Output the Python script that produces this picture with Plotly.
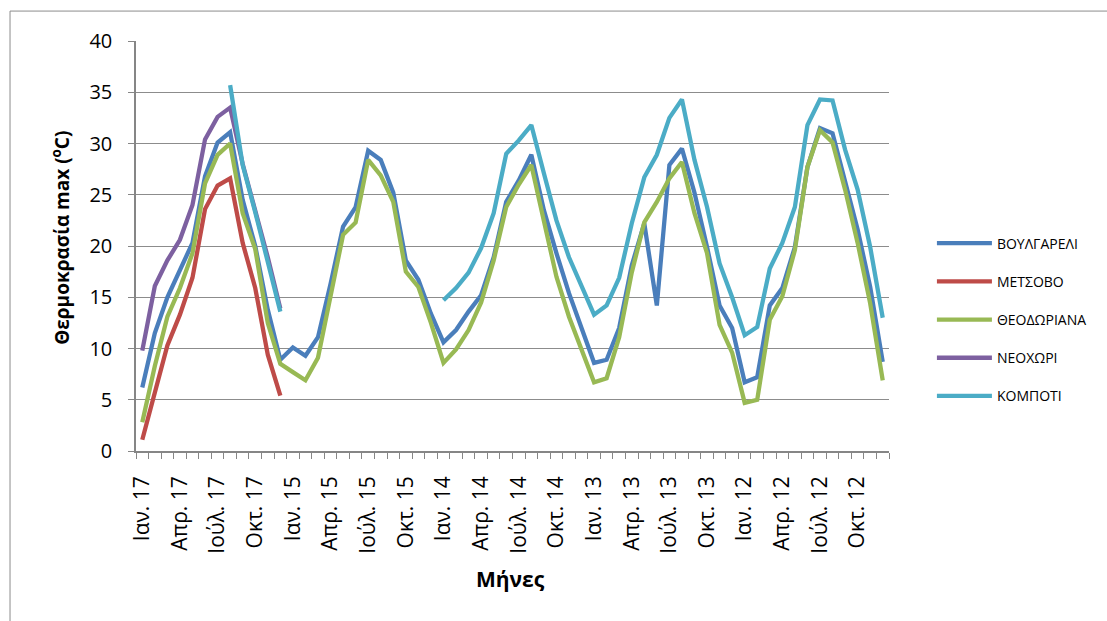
import plotly.graph_objects as go

# Month labels (Jan 2017 - Dec 2017, then 2015, 2014, 2013, 2012)
month_abbr = ["Ιαν.", "Φεβ.", "Μάρ.", "Απρ.", "Μάι.", "Ιούν.",
              "Ιούλ.", "Αύγ.", "Σεπ.", "Οκτ.", "Νοέ.", "Δεκ."]
years = ["17", "15", "14", "13", "12"]
months = [f"{m} {y}" for y in years for m in month_abbr]
month_idx = list(range(len(months)))

N = None

voulgareli = [6.2, 11.5, 15.0, 17.7, 20.3, 26.8, 30.1, 31.1, 24.5, 20.0, 13.8, 8.9,
              10.1, 9.3, 11.1, 16.3, 21.9, 23.8, 29.3, 28.4, 25.2, 18.6, 16.7, 13.4,
              10.6, 11.8, 13.6, 15.2, 18.9, 24.3, 26.4, 28.9, 23.5, 19.3, 15.4, 12.0,
              8.6, 8.9, 12.0, 18.1, 22.2, 14.2, 27.9, 29.5, 25.2, 19.9, 14.2, 12.0,
              6.7, 7.2, 14.2, 15.9, 19.9, 27.7, 31.5, 31.0, 26.4, 21.6, 16.0, 8.7]

metsovo = [1.1, 5.8, 10.3, 13.3, 16.9, 23.6, 25.9, 26.6, 20.3, 15.9, 9.4, 5.4] + [N] * 48

theodoriana = [2.8, 8.3, 13.1, 15.9, 19.3, 26.1, 28.9, 30.0, 23.2, 19.7, 12.5, 8.5,
               7.7, 6.9, 9.1, 15.2, 21.1, 22.3, 28.4, 26.9, 24.3, 17.5, 16.0, 12.5,
               8.6, 9.9, 11.8, 14.5, 18.6, 23.8, 26.0, 27.9, 22.5, 17.0, 13.1, 10.0,
               6.7, 7.1, 11.1, 17.4, 22.3, 24.3, 26.6, 28.2, 23.2, 19.3, 12.3, 9.6,
               4.7, 5.0, 12.8, 15.1, 19.6, 27.7, 31.3, 30.1, 25.5, 20.3, 14.4, 6.9]

neochori = [9.8, 16.1, 18.6, 20.6, 24.0, 30.4, 32.6, 33.5, 28.0, 23.6, 18.9, 13.9] + [N] * 48

kompoti = ([N] * 7 + [35.7, 27.9, 23.3, 18.4, 13.6] + [N] * 12 +
           [14.7, 15.9, 17.4, 19.8, 23.2, 29.0, 30.3, 31.8, 27.1, 22.5, 18.9, 16.0,
            13.3, 14.2, 16.9, 22.2, 26.7, 28.9, 32.5, 34.3, 28.4, 23.8, 18.3, 15.0,
            11.3, 12.1, 17.8, 20.3, 23.8, 31.8, 34.3, 34.2, 29.4, 25.5, 19.9, 13.0])

series = [
    ("ΒΟΥΛΓΑΡΕΛΙ", voulgareli, "#4A7EBB"),
    ("ΜΕΤΣΟΒΟ", metsovo, "#BE4B48"),
    ("ΘΕΟΔΩΡΙΑΝΑ", theodoriana, "#98B954"),
    ("ΝΕΟΧΩΡΙ", neochori, "#7D60A0"),
    ("ΚΟΜΠΟΤΙ", kompoti, "#4BACC6"),
]

# every third month gets a label
label_idx = month_idx[::3]
label_txt = months[::3]

FONT = "Open Sans"
GRID = "#8c8c8c"
AXIS = "#868686"

fig = go.Figure()
for name, vals, color in series:
    fig.add_trace(go.Scatter(
        x=month_idx, y=vals, name=name, mode="lines", legendgroup=name,
        line=dict(color=color, width=4.3), connectgaps=False,
        customdata=months, hovertemplate="%{customdata}: %{y}<extra>" + name + "</extra>",
    ))

fig.update_layout(
    width=1107, height=621,
    margin=dict(l=136, r=218, t=41, b=170, pad=0),
    paper_bgcolor="white", plot_bgcolor="white",
    font=dict(family=FONT, color="black"),
    showlegend=True,
    legend=dict(
        x=1.057, y=0.545, xanchor="left", yanchor="top",
        font=dict(family=FONT, size=14, color="black"),
        tracegroupgap=17, itemwidth=55, bgcolor="rgba(0,0,0,0)",
    ),
    xaxis=dict(
        range=[-0.5, len(months) - 0.5], tickmode="array",
        tickvals=label_idx, ticktext=label_txt, ticks="", tickangle=-90,
        minor=dict(tickmode="linear", tick0=-0.5, dtick=1, ticks="outside",
                   ticklen=6, tickcolor=AXIS, tickwidth=1.3, showgrid=False),
        showline=True, linecolor=AXIS, linewidth=1.5, showgrid=False,
        zeroline=False,
        tickfont=dict(family=FONT, size=21, color="black"),
        ticklabelstandoff=15,
    ),
    yaxis=dict(
        range=[0, 40], dtick=5, showgrid=True, gridcolor=GRID, gridwidth=1.3,
        showline=True, linecolor=AXIS, linewidth=1.5, zeroline=False,
        ticks="outside", ticklen=6, tickcolor=AXIS, tickwidth=1.3,
        tickfont=dict(family=FONT, size=20, color="black"),
        ticklabelstandoff=12,
    ),
    annotations=[
        dict(text="Θερμοκρασία max (<sup>o</sup>C)", xref="paper", yref="paper",
             x=-0.0996, y=0.52, textangle=-90, showarrow=False,
             xanchor="center", yanchor="middle",
             font=dict(family=FONT, size=19, color="black", weight="bold")),
        dict(text="Μήνες", xref="paper", yref="paper", x=0.498, y=-0.312,
             showarrow=False, xanchor="center", yanchor="middle",
             font=dict(family=FONT, size=21, color="black", weight="bold")),
    ],
    shapes=[
        dict(type="rect", xref="paper", yref="paper", x0=-0.1673, x1=2.0,
             y0=-2.0, y1=1.073, line=dict(color=GRID, width=1),
             layer="below"),
    ],
)

fig.write_html("out.html")
